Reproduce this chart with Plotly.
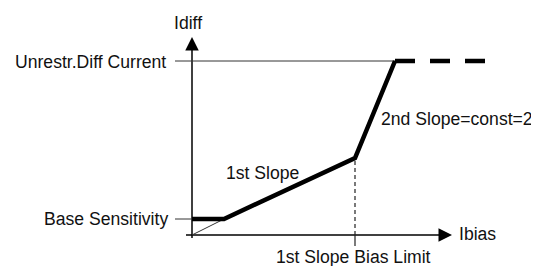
import plotly.graph_objects as go

# Characteristic (data units: Ibias, Idiff)
curve_x = [0.0, 3.2, 16.3, 20.3]
curve_y = [1.6, 1.6, 7.7, 17.4]
dash_x = [20.3, 29.5]
dash_y = [17.4, 17.4]
base_sens = 1.6
unrestr = 17.4
bias_limit = 16.3
kink_y = 7.7

FONT = "Liberation Sans, Arial, sans-serif"
FS = 17.6
fig = go.Figure()

def line(xs, ys, w, color="black", dash=None):
    fig.add_trace(go.Scatter(x=xs, y=ys, mode="lines", hoverinfo="skip",
                             line=dict(color=color, width=w, dash=dash)))

# axes
line([-0.6, 25.5], [0, 0], 1.5)
line([0, 0], [-0.3, 19.3], 1.5)
# thin reference lines
line([-1.7, dash_x[0]], [unrestr, unrestr], 1, "#333")
line([-1.7, 0], [base_sens, base_sens], 1, "#333")
line([0, curve_x[1]], [0, curve_y[1]], 1, "#333")
line([bias_limit, bias_limit], [0, kink_y], 1.2, "#222", "4px,3px")
line([bias_limit, bias_limit], [0, -1.1], 1.2, "#222")
# thick characteristic
line(curve_x, curve_y, 4.5)
line(dash_x, dash_y, 4.5, "black", "20px,15px")

# arrowheads
fig.add_annotation(x=0, y=19.8, ax=0, ay=18.5, axref="x", ayref="y", xref="x", yref="y",
                   text="", showarrow=True, arrowhead=2, arrowsize=1.8, arrowwidth=1.5, arrowcolor="black", standoff=0)
fig.add_annotation(x=26.0, y=0, ax=24.7, ay=0, axref="x", ayref="y", xref="x", yref="y",
                   text="", showarrow=True, arrowhead=2, arrowsize=1.8, arrowwidth=1.5, arrowcolor="black", standoff=0)

def label(x, y, t, xanchor):
    fig.add_annotation(x=x, y=y, text=t, showarrow=False, xanchor=xanchor, yanchor="middle",
                       font=dict(family=FONT, size=FS, color="#111"))

label(-0.4, 21.2, "Idiff", "center")
label(-2.4, unrestr - 0.1, "Unrestr.Diff Current", "right")
label(-2.2, base_sens, "Base Sensitivity", "right")
label(3.2, 6.2, "1st Slope", "left")
label(18.7, 11.6, "2nd Slope=const=2", "left")
label(26.5, 0.1, "Ibias", "left")
label(bias_limit - 0.2, -2.2, "1st Slope Bias Limit", "center")

# page has an 8px body margin: plot is drawn from (8, 8) to (539, 266)
fig.update_layout(width=531, height=258, margin=dict(l=0, r=0, t=0, b=0),
                  paper_bgcolor="white", plot_bgcolor="white", showlegend=False,
                  xaxis=dict(range=[-18.4, 34.7], visible=False, fixedrange=True),
                  yaxis=dict(range=[-3.1, 22.7], visible=False, fixedrange=True))
fig.write_html("out.html")
